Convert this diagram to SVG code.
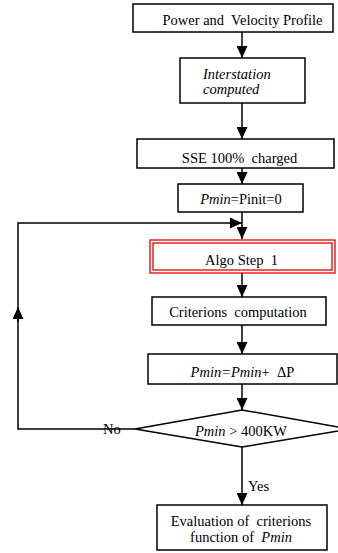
<svg xmlns="http://www.w3.org/2000/svg" width="338" height="553" viewBox="0 0 338 553">
  <style>
    .box { fill: #fff; stroke: #000; stroke-width: 1.5; }
    .red { fill: none; stroke: #e00000; stroke-width: 1.3; }
    .lbl { font-family: "Liberation Serif", "Times New Roman", serif; font-size: 14.5px; fill: #000; white-space: pre; }
    .mid { text-anchor: middle; }
    .it { font-style: italic; }
    .wire { fill: none; stroke: #000; stroke-width: 1.5; }
  </style>
  <defs>
    <marker id="arrow" viewBox="0 0 12 11" refX="12" refY="5.5" markerWidth="12" markerHeight="11" markerUnits="userSpaceOnUse" orient="auto">
      <path d="M0,0 L12,5.5 L0,11 z" fill="#000"/>
    </marker>
  </defs>
  <rect width="338" height="553" fill="#fff"/>

  <!-- connectors -->
  <g id="connectors">
    <path class="wire" d="M242,32 V58" marker-end="url(#arrow)"/>
    <path class="wire" d="M242,103 V139" marker-end="url(#arrow)"/>
    <path class="wire" d="M242,168 V184" marker-end="url(#arrow)"/>
    <path class="wire" d="M242,212 V239" marker-end="url(#arrow)"/>
    <path class="wire" d="M242,273 V297" marker-end="url(#arrow)"/>
    <path class="wire" d="M242,325 V354" marker-end="url(#arrow)"/>
    <path class="wire" d="M242,384 V410" marker-end="url(#arrow)"/>
    <path class="wire" d="M242,447 V505" marker-end="url(#arrow)"/>
    <!-- loop back when the limit is not reached -->
    <path class="wire" d="M135,429 H18 V223 H242" marker-end="url(#arrow)"/>
    <path class="wire" d="M18,322 V307" marker-end="url(#arrow)"/>
    <text class="lbl" x="103" y="434">No</text>
    <text class="lbl" x="248" y="491">Yes</text>
  </g>

  <g id="profile">
    <rect class="box" x="133" y="4" width="200" height="28"/>
    <text class="lbl mid" x="242.5" y="25">Power and  Velocity Profile</text>
  </g>

  <g id="interstation">
    <rect class="box" x="180" y="58" width="125" height="45"/>
    <text class="lbl it" x="203" y="79">Interstation</text>
    <text class="lbl it" x="203" y="94">computed</text>
  </g>

  <g id="sse">
    <rect class="box" x="137" y="139" width="197" height="29"/>
    <text class="lbl mid" x="239.5" y="163">SSE 100%  charged</text>
  </g>

  <g id="init">
    <rect class="box" x="178" y="184" width="125" height="28"/>
    <text class="lbl mid" x="241" y="204"><tspan class="it">Pmin</tspan>=Pinit=0</text>
  </g>

  <g id="algo">
    <rect class="red" x="150" y="240" width="185" height="33"/>
    <rect class="red" x="153" y="243" width="179" height="27"/>
    <text class="lbl mid" x="241.5" y="265">Algo Step  1</text>
  </g>

  <g id="criterions">
    <rect class="box" x="152" y="297" width="174" height="28"/>
    <text class="lbl mid" x="238" y="317">Criterions  computation</text>
  </g>

  <g id="increment">
    <rect class="box" x="148" y="354" width="189" height="30"/>
    <text class="lbl mid" x="242.5" y="377"><tspan class="it">Pmin=Pmin</tspan>+  ΔP</text>
  </g>

  <g id="test">
    <polygon class="box" points="135,429 242,410 350,429 242,447"/>
    <text class="lbl mid" x="241" y="436"><tspan class="it">Pmin</tspan> &gt; 400KW</text>
  </g>

  <g id="evaluation">
    <rect class="box" x="157" y="505" width="170" height="45"/>
    <text class="lbl mid" x="241" y="526">Evaluation of  criterions</text>
    <text class="lbl mid" x="241" y="542">function of  <tspan class="it">Pmin</tspan></text>
  </g>
</svg>
